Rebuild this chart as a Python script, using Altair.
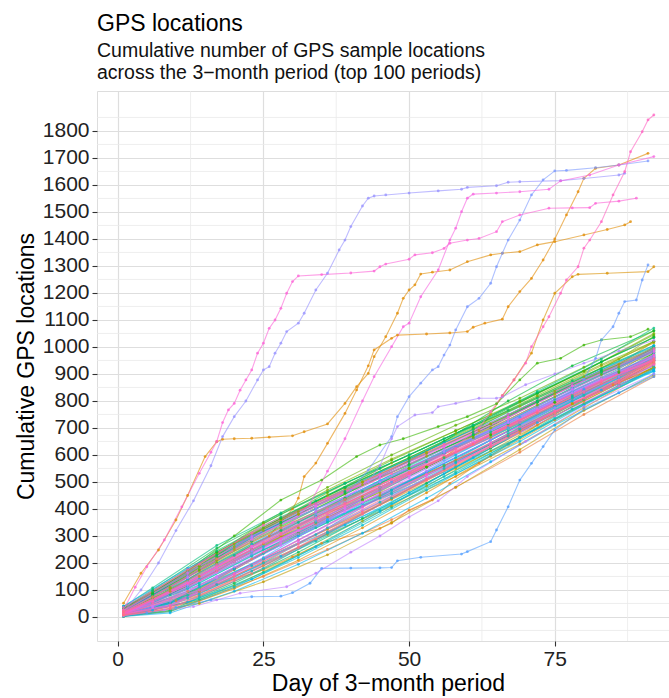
import math
import altair as alt
import pandas as pd

# ---------------- data ----------------
ORANGE_A_DAYS = [1, 4, 7, 10, 12, 15, 17, 18, 20, 23, 26, 30, 32, 36, 39, 41, 43, 44, 46, 48, 49, 50,
                 51, 52, 54, 57, 60, 64, 66, 69, 72, 75, 80, 84, 87, 88]
ORANGE_A_VALS = [51, 162, 248, 359, 450, 594, 649, 658, 660, 662, 666, 671, 686, 715, 791, 853, 902, 964,
                 1038, 1125, 1180, 1211, 1230, 1270, 1277, 1285, 1316, 1341, 1347, 1353, 1378, 1390,
                 1415, 1435, 1452, 1464]

ORANGE_B_DAYS = [1, 6, 12, 17, 23, 26, 28, 30, 31, 32, 34, 36, 39, 41, 43, 44, 47, 48, 53, 57, 60, 61,
                 63, 66, 67, 69, 71, 73, 75, 77, 79, 80, 82, 86, 91]
ORANGE_B_VALS = [14, 62, 128, 190, 262, 300, 350, 400, 440, 520, 570, 643, 754, 841, 930, 989, 1032,
                 1044, 1048, 1052, 1057, 1073, 1088, 1103, 1149, 1205, 1254, 1322, 1400, 1489, 1575,
                 1625, 1662, 1674, 1717]

PINK_EARLY_DAYS = [1, 3, 5, 8, 11, 14, 16, 17, 18, 19, 20, 21, 22, 23, 24, 25, 26, 27, 28, 29, 30, 31,
                   35, 40, 44, 45, 46, 50, 51, 54, 56, 57, 60, 62, 65, 66, 69, 74, 78, 81, 82, 86, 89]
PINK_EARLY_VALS = [26, 110, 186, 285, 408, 532, 610, 650, 720, 767, 791, 840, 878, 915, 977, 1014,
                   1069, 1100, 1143, 1199, 1242, 1263, 1268, 1274, 1281, 1297, 1307, 1325, 1341, 1349,
                   1365, 1384, 1396, 1402, 1427, 1464, 1489, 1514, 1515, 1516, 1532, 1540, 1551]

BLUE_EARLY_DAYS = [1, 4, 7, 10, 13, 16, 18, 20, 22, 24, 25, 26, 27, 28, 29, 31, 32, 34, 36, 38, 39, 40,
                   42, 43, 44, 46, 50, 55, 59, 60, 65, 67, 69, 76, 80, 86, 87]
BLUE_EARLY_VALS = [18, 100, 200, 320, 430, 560, 668, 742, 800, 878, 915, 927, 977, 1014, 1057, 1088,
                   1125, 1211, 1273, 1359, 1396, 1446, 1522, 1551, 1559, 1563, 1570, 1578, 1584, 1591,
                   1597, 1610, 1612, 1616, 1624, 1637, 1643]

PINK_RISER_DAYS = [1, 12, 23, 30, 33, 36, 39, 42, 44, 47, 49, 50, 52, 55, 57, 58, 59, 60, 61, 65, 69,
                   74, 76, 81, 86, 92]
PINK_RISER_VALS = [12, 125, 262, 350, 420, 540, 660, 800, 890, 1001, 1075, 1088, 1186, 1285, 1396,
                   1440, 1501, 1551, 1566, 1570, 1575, 1584, 1615, 1637, 1674, 1705]

BLUE_RISER_DAYS = [1, 12, 23, 34, 38, 40, 43, 47, 48, 50, 52, 54, 55, 56, 57, 58, 60, 62, 64, 65, 66,
                   67, 69, 71, 73, 75, 77, 82, 86, 91]
BLUE_RISER_VALS = [8, 110, 232, 362, 420, 470, 544, 668, 742, 816, 866, 915, 927, 970, 1007, 1063,
                   1149, 1180, 1236, 1297, 1347, 1396, 1470, 1563, 1619, 1652, 1654, 1664, 1674, 1689]

BLUE_HUMP_DAYS = [1, 12, 23, 34, 40, 43, 45, 47, 48, 51, 54, 55, 58, 62, 65, 66, 70, 75, 80, 86, 92]
BLUE_HUMP_VALS = [10, 118, 245, 370, 455, 500, 560, 660, 705, 748, 757, 779, 791, 810, 810, 815, 860,
                  900, 940, 985, 1025]

LOW_BLUE_DAYS = [1, 5, 10, 16, 23, 28, 30, 33, 35, 40, 45, 47, 48, 52, 59, 60, 64, 65, 67, 69, 71, 73,
                 75, 80, 86, 92]
LOW_BLUE_VALS = [5, 15, 35, 63, 75, 77, 90, 125, 180, 181, 182, 183, 208, 221, 233, 242, 279, 322, 408,
                 507, 569, 631, 693, 770, 830, 890]

LOW_BLUE2_DAYS = [1, 8, 13, 17, 21, 29, 34, 40, 45, 50, 55, 60, 70, 80, 92]
LOW_BLUE2_VALS = [5, 26, 38, 63, 88, 112, 162, 240, 300, 370, 430, 520, 650, 780, 900]

PINK_LATE_DAYS = [1, 12, 23, 34, 45, 56, 62, 64, 66, 68, 70, 71, 73, 74, 76, 77, 79, 80, 81, 83, 85,
                  87, 88, 90, 91, 92]
PINK_LATE_VALS = [14, 125, 250, 365, 480, 600, 700, 760, 820, 878, 940, 1001, 1075, 1112, 1199, 1248,
                  1297, 1366, 1396, 1464, 1563, 1649, 1723, 1797, 1841, 1859]

ORANGE_C_DAYS = [1, 12, 23, 34, 45, 56, 62, 64, 66, 68, 71, 73, 75, 78, 79, 84, 91, 92]
ORANGE_C_VALS = [10, 115, 240, 355, 470, 590, 690, 750, 820, 878, 977, 1100, 1199, 1260, 1269, 1273,
                 1279, 1297]

BLUE_LATE_DAYS = [1, 12, 23, 34, 45, 56, 67, 78, 80, 82, 83, 85, 86, 87, 89, 90, 91]
BLUE_LATE_VALS = [12, 118, 240, 355, 468, 580, 700, 840, 880, 958, 1026, 1075, 1125, 1168, 1174, 1248,
                  1304]

ORANGE_LOW_DAYS = [1, 10, 17, 25, 30, 35, 45, 47, 50, 54, 57, 62, 67, 72, 78, 85, 92]
ORANGE_LOW_VALS = [5, 60, 120, 174, 223, 273, 328, 347, 396, 433, 495, 570, 640, 710, 790, 860, 920]

GREEN_TOP_DAYS = [1, 12, 20, 28, 35, 41, 45, 49, 55, 60, 65, 69, 72, 76, 80, 83, 88, 91]
GREEN_TOP_VALS = [30, 170, 300, 433, 507, 594, 637, 660, 705, 742, 790, 878, 940, 958, 1007, 1026,
                  1038, 1066]

GREEN2_DAYS = [1, 12, 23, 34, 45, 56, 67, 78, 92]
GREEN2_VALS = [20, 150, 280, 400, 520, 650, 800, 930, 1060]

# the dense bundle: estimated values of individual periods at a few days
# (even rows are read at the first day list, odd rows at the second)
BUNDLE_A_DAYS = [1, 12, 23, 34, 45, 56, 67, 78, 92]
BUNDLE_A_DAYS_ALT = [1, 14, 25, 36, 47, 58, 69, 80, 92]
BUNDLE_A = [
    [10, 120, 250, 370, 480, 590, 700, 815, 950],
    [25, 170, 320, 450, 570, 680, 780, 890, 1020],
    [5, 70, 170, 280, 395, 520, 640, 770, 910],
    [30, 190, 350, 480, 600, 710, 810, 925, 1060],
    [12, 110, 230, 330, 440, 560, 690, 820, 955],
    [8, 85, 200, 330, 470, 600, 720, 840, 970],
    [18, 150, 290, 410, 520, 620, 720, 830, 965],
    [3, 60, 150, 250, 360, 480, 610, 750, 890],
    [40, 180, 300, 400, 500, 610, 725, 845, 985],
    [15, 100, 220, 360, 500, 630, 740, 845, 970],
    [20, 150, 270, 370, 460, 560, 670, 790, 925],
    [6, 75, 180, 310, 440, 570, 700, 825, 955],
    [22, 160, 300, 430, 550, 660, 765, 875, 1005],
    [9, 95, 200, 305, 410, 520, 640, 775, 920],
    [14, 130, 260, 380, 500, 615, 725, 830, 955],
    [28, 175, 330, 460, 580, 690, 800, 910, 1045],
    [4, 55, 140, 260, 390, 530, 670, 800, 930],
    [16, 140, 260, 360, 455, 555, 665, 785, 915],
    [11, 115, 245, 375, 495, 605, 715, 830, 960],
    [35, 195, 340, 440, 530, 620, 720, 835, 970],
    [7, 80, 190, 305, 425, 550, 680, 810, 950],
    [19, 135, 275, 400, 510, 610, 705, 810, 935],
    [13, 105, 225, 350, 480, 605, 725, 850, 990],
    [2, 50, 130, 230, 350, 480, 620, 765, 895],
    [24, 165, 295, 400, 500, 610, 720, 840, 970],
    [10, 100, 240, 380, 510, 625, 730, 830, 950],
    [17, 145, 285, 410, 525, 630, 730, 845, 980],
    [12, 125, 250, 355, 460, 575, 695, 820, 950],
    [26, 175, 310, 420, 530, 640, 750, 865, 995],
    [8, 80, 190, 315, 440, 560, 680, 800, 935],
    [21, 150, 295, 420, 535, 645, 750, 865, 1005],
    [5, 65, 165, 280, 405, 535, 665, 805, 955],
    [15, 135, 250, 350, 450, 560, 670, 790, 925],
    [30, 185, 345, 470, 585, 690, 795, 910, 1050],
    [9, 95, 215, 345, 470, 595, 710, 825, 960],
    [18, 150, 270, 370, 470, 580, 690, 805, 940],
    [3, 55, 160, 285, 415, 545, 675, 805, 930],
    [14, 118, 235, 350, 470, 590, 710, 830, 960],
    [23, 160, 300, 415, 525, 635, 740, 855, 985],
    [11, 110, 215, 315, 420, 530, 650, 785, 920],
    [20, 140, 270, 390, 505, 615, 720, 835, 968],
    [6, 88, 205, 330, 455, 580, 700, 820, 945],
    [16, 125, 260, 390, 515, 630, 740, 855, 990],
    [12, 105, 215, 325, 435, 550, 665, 790, 925],
]
BUNDLE_B_DAYS = [1, 6, 17, 28, 39, 50, 61, 72, 83, 92]
BUNDLE_B_DAYS_ALT = [1, 9, 20, 31, 42, 53, 64, 75, 86, 92]
BUNDLE_B = [
    [12, 55, 175, 290, 410, 530, 645, 765, 875, 950],
    [28, 95, 250, 380, 500, 610, 715, 825, 935, 1020],
    [5, 25, 120, 225, 340, 460, 590, 720, 840, 910],
    [18, 70, 205, 330, 445, 555, 665, 780, 890, 965],
    [8, 40, 150, 275, 400, 525, 645, 770, 880, 960],
    [35, 105, 260, 380, 490, 595, 700, 815, 925, 1000],
    [14, 60, 185, 305, 420, 530, 640, 760, 870, 950],
    [3, 20, 105, 210, 330, 460, 595, 730, 855, 925],
    [22, 80, 225, 350, 465, 575, 685, 800, 910, 985],
    [10, 45, 160, 285, 410, 530, 645, 760, 865, 940],
    [16, 65, 195, 320, 440, 560, 675, 795, 905, 980],
    [6, 30, 135, 255, 380, 505, 630, 755, 870, 948],
    [30, 95, 245, 370, 480, 585, 695, 810, 920, 1000],
    [12, 50, 175, 305, 430, 555, 675, 795, 910, 990],
    [20, 75, 215, 330, 435, 535, 640, 755, 865, 942],
    [4, 25, 125, 240, 365, 495, 625, 755, 875, 955],
    [25, 85, 235, 360, 475, 585, 695, 815, 930, 1015],
    [9, 40, 155, 275, 395, 515, 635, 755, 870, 948],
    [15, 62, 190, 310, 425, 540, 655, 775, 885, 962],
    [40, 110, 270, 390, 500, 605, 715, 835, 955, 1040],
    [7, 35, 145, 265, 390, 515, 640, 765, 878, 952],
    [17, 70, 205, 320, 425, 525, 630, 745, 855, 935],
    [11, 50, 170, 300, 425, 550, 670, 795, 905, 985],
    [2, 15, 95, 195, 310, 440, 575, 710, 830, 900],
    [26, 90, 240, 365, 480, 590, 700, 820, 935, 1020],
    [13, 55, 180, 310, 435, 555, 675, 795, 905, 978],
    [19, 72, 210, 330, 440, 550, 660, 775, 885, 965],
    [9, 42, 160, 285, 410, 535, 655, 780, 890, 972],
    [32, 100, 255, 380, 495, 600, 710, 830, 945, 1035],
    [6, 32, 140, 260, 385, 510, 635, 760, 878, 958],
    [15, 65, 195, 310, 420, 530, 640, 760, 873, 955],
    [23, 82, 228, 350, 465, 575, 685, 805, 918, 998],
    [10, 48, 165, 285, 405, 525, 642, 762, 876, 950],
    [4, 22, 115, 230, 355, 485, 615, 745, 865, 945],
    [21, 78, 220, 340, 455, 565, 675, 795, 910, 992],
    [12, 52, 178, 300, 420, 538, 655, 775, 886, 962],
    [27, 88, 240, 365, 480, 590, 705, 828, 945, 1035],
    [8, 38, 150, 270, 390, 510, 630, 755, 872, 950],
    [16, 66, 200, 320, 435, 550, 665, 785, 898, 975],
    [3, 20, 110, 220, 340, 470, 600, 735, 858, 915],
    [38, 108, 265, 385, 495, 600, 710, 835, 955, 1070],
    [14, 58, 185, 308, 425, 540, 655, 775, 890, 968],
    [24, 84, 230, 350, 460, 565, 675, 798, 915, 995],
    [9, 42, 160, 283, 405, 525, 642, 763, 878, 955],
]

X_TICKS = [0, 25, 50, 75]
X_MINOR = [12.5, 37.5, 62.5, 87.5]
Y_TICKS = list(range(0, 1900, 100))
Y_MINOR = [-50] + [v + 50 for v in range(0, 1900, 100)]

# ---------------- colours: ggplot-like hue palette ----------------
def hcl_hex(h, c=100.0, l=65.0):
    Xn, Yn, Zn = 95.047, 100.0, 108.883
    den = Xn + 15 * Yn + 3 * Zn
    un, vn = 4 * Xn / den, 9 * Yn / den
    hr = math.radians(h)
    U, V = c * math.cos(hr), c * math.sin(hr)
    Y = Yn * ((l + 16) / 116) ** 3
    up, vp = U / (13 * l) + un, V / (13 * l) + vn
    X = Y * 9 * up / (4 * vp)
    Z = Y * (12 - 3 * up - 20 * vp) / (4 * vp)
    X, Y, Z = X / 100, Y / 100, Z / 100
    r = 3.240479 * X - 1.537150 * Y - 0.498535 * Z
    g = -0.969256 * X + 1.875992 * Y + 0.041556 * Z
    b = 0.055648 * X - 0.204043 * Y + 1.057311 * Z

    def gam(u):
        u = max(0.0, min(1.0, u))
        return 12.92 * u if u <= 0.0031308 else 1.055 * u ** (1 / 2.4) - 0.055

    return "#%02x%02x%02x" % tuple(int(round(255 * gam(t))) for t in (r, g, b))


PALETTE = [hcl_hex(15 + 360 * i / 100) for i in range(100)]

special = [
    (8, ORANGE_A_DAYS, ORANGE_A_VALS),
    (7, ORANGE_B_DAYS, ORANGE_B_VALS),
    (10, ORANGE_C_DAYS, ORANGE_C_VALS),
    (6, ORANGE_LOW_DAYS, ORANGE_LOW_VALS),
    (86, PINK_EARLY_DAYS, PINK_EARLY_VALS),
    (84, PINK_RISER_DAYS, PINK_RISER_VALS),
    (89, PINK_LATE_DAYS, PINK_LATE_VALS),
    (70, BLUE_EARLY_DAYS, BLUE_EARLY_VALS),
    (68, BLUE_RISER_DAYS, BLUE_RISER_VALS),
    (72, BLUE_HUMP_DAYS, BLUE_HUMP_VALS),
    (66, LOW_BLUE_DAYS, LOW_BLUE_VALS),
    (74, LOW_BLUE2_DAYS, LOW_BLUE2_VALS),
    (67, BLUE_LATE_DAYS, BLUE_LATE_VALS),
    (30, GREEN_TOP_DAYS, GREEN_TOP_VALS),
    (33, GREEN2_DAYS, GREEN2_VALS),
]
used = {s[0] for s in special}

bundle = []
for k in range(max(len(BUNDLE_A), len(BUNDLE_B))):
    if k < len(BUNDLE_A):
        bundle.append((BUNDLE_A_DAYS if k % 2 == 0 else BUNDLE_A_DAYS_ALT, BUNDLE_A[k]))
    if k < len(BUNDLE_B):
        bundle.append((BUNDLE_B_DAYS if k % 2 == 0 else BUNDLE_B_DAYS_ALT, BUNDLE_B[k]))

# colour assignment: central lines of the band get violet/pink hues (drawn last, on top),
# upper edge green/olive, lower edge cyan/orange/blue
mid = [v[len(v) // 2] for d, v in bundle]
med = sorted(mid)[len(mid) // 2]
order_central = sorted(range(len(bundle)), key=lambda i: abs(mid[i] - med))
pink_pool = [i for i in range(75, 100) if i not in used]
n_central = min(len(pink_pool) + 10, len(bundle))
central = order_central[:n_central]
rest = sorted(order_central[n_central:], key=lambda i: -mid[i])
pink_cycle = pink_pool + [i for i in range(60, 75) if i not in used]
top_pool = [i for i in range(18, 42) if i not in used]
low_pool = [i for i in range(42, 60) if i not in used] + [i for i in range(0, 18) if i not in used]

hue_of = {}
for j, i in enumerate(central):
    hue_of[i] = pink_cycle[j % len(pink_cycle)]
half = len(rest) // 2
for j, i in enumerate(rest[:half]):
    hue_of[i] = top_pool[(j * 5) % len(top_pool)]
for j, i in enumerate(rest[half:]):
    hue_of[i] = low_pool[(j * 7) % len(low_pool)]

series = list(special)
for k, (d, v) in enumerate(bundle):
    series.append((hue_of[k], d, v))

# draw in palette order (pink hues end up on top)
series = sorted(enumerate(series), key=lambda t: (t[1][0], t[0]))
rows, ids, cols = [], [], []
for n, (_, (hue, days, vals)) in enumerate(series):
    sid = "p%03d" % n
    ids.append(sid)
    cols.append(PALETTE[hue])
    for d, v in zip(days, vals):
        rows.append({"sid": sid, "day": d, "value": v})
df = pd.DataFrame(rows)

# ---------------- chart ----------------
FONT = "Liberation Sans"
xscale = alt.Scale(domain=[-3.55, 94.6], nice=False, zero=False)
yscale = alt.Scale(domain=[-89, 1948], nice=False, zero=False)
x_axis = alt.Axis(values=X_TICKS, grid=True, gridColor="#DEDEDE", gridWidth=1.2, domain=False,
                  tickSize=5, tickColor="#333333", tickWidth=1.1, labelFontSize=21,
                  labelColor="#222222", labelFont=FONT, labelPadding=2, labelFlush=False,
                  title="Day of 3−month period", titleFont=FONT, titleFontSize=23,
                  titleFontWeight="normal", titleColor="#000000", titlePadding=3, titleX=291,
                  titleAlign="center")
y_axis = alt.Axis(values=Y_TICKS, format="d", grid=True, gridColor="#DEDEDE", gridWidth=1.2,
                  domain=False, tickSize=5, tickColor="#333333", tickWidth=1.1, labelFontSize=21,
                  labelColor="#222222", labelFont=FONT, labelPadding=3,
                  title="Cumulative GPS locations", titleFont=FONT, titleFontSize=23,
                  titleFontWeight="normal", titleColor="#000000", titlePadding=4)

X = alt.X("day:Q", scale=xscale, axis=x_axis)
Y = alt.Y("value:Q", scale=yscale, axis=y_axis)
C = alt.Color("sid:N", scale=alt.Scale(domain=ids, range=cols), legend=None)

minor_x = alt.Chart(pd.DataFrame({"day": X_MINOR})).mark_rule(color="#EAEAEA", strokeWidth=0.8).encode(x=X)
minor_y = alt.Chart(pd.DataFrame({"value": Y_MINOR})).mark_rule(color="#EAEAEA", strokeWidth=0.8).encode(y=Y)

base = alt.Chart(df).encode(x=X, y=Y, color=C)
lines = base.mark_line(strokeWidth=1.1, opacity=0.6)
points = base.mark_circle(size=8, opacity=0.75)

chart = alt.layer(minor_x, minor_y, lines, points).properties(
    width=572,
    height=550,
    autosize="none",
    padding={"left": 97, "top": 91, "right": 0, "bottom": 57},
    title=alt.Title(
        text="GPS locations",
        subtitle=["Cumulative number of GPS sample locations",
                  "across the 3−month period (top 100 periods)"],
        anchor="start", frame="group", font=FONT, fontSize=23, fontWeight="normal",
        color="#000000", subtitleFont=FONT, subtitleFontSize=19.5, subtitleColor="#111111",
        subtitleLineHeight=21.7, subtitlePadding=6, offset=8,
    ),
).configure_view(stroke="#555555", strokeWidth=1.2).configure(font=FONT)

chart.save("out.html", embed_options={"renderer": "svg", "actions": False})
